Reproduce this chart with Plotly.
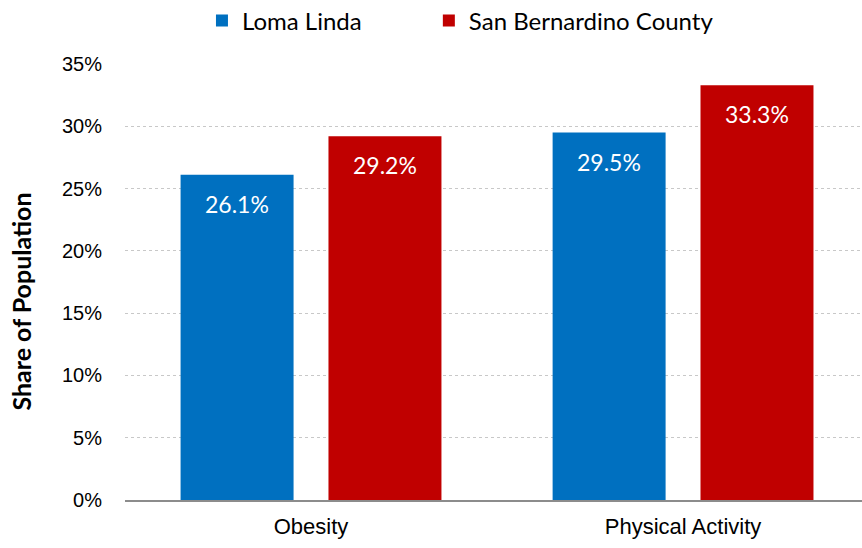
import plotly.graph_objects as go

# Health indicators, share of population (%)
categories = ["Obesity", "Physical Activity"]
loma_linda = [26.1, 29.5]
san_bernardino = [29.2, 33.3]
series_names = ["Loma Linda", "San Bernardino County"]
y_ticks = [0, 5, 10, 15, 20, 25, 30, 35]
y_tick_labels = [f"{v}%" for v in y_ticks]

BLUE = "#0070C0"
RED = "#C00000"
LABEL_FONT = "Lato"
AXIS_FONT = "Liberation Sans, Arial"

fig = go.Figure()
for name, vals, color, leg in [(series_names[0], loma_linda, BLUE, "legend"),
                               (series_names[1], san_bernardino, RED, "legend2")]:
    fig.add_trace(go.Bar(
        x=categories, y=vals, name=name, legend=leg,
        marker=dict(color=color, line=dict(width=0)),
        hoverinfo="x+y+name",
    ))

# Value labels sitting just inside the top of each bar
offsets = [-0.1987, 0.1987]
for vals, off in [(loma_linda, offsets[0]), (san_bernardino, offsets[1])]:
    for i, v in enumerate(vals):
        fig.add_annotation(
            x=i + off, y=v, xref="x", yref="y",
            text=f"{v:.1f}%", showarrow=False,
            yanchor="middle", yshift=-29,
            font=dict(family=LABEL_FONT, size=23, color="white"),
        )

# Rotated axis title
fig.add_annotation(
    xref="paper", yref="paper", x=-0.1411, y=0.454,
    text="<b>Share of Population</b>", showarrow=False, textangle=-90,
    xanchor="center", yanchor="middle",
    font=dict(family=LABEL_FONT, size=25, color="black"),
)

legend_style = dict(
    orientation="h", xref="container", yref="container",
    xanchor="left", y=0.962, yanchor="middle",
    font=dict(family=LABEL_FONT, size=24, color="black"),
    bgcolor="rgba(0,0,0,0)",
)

fig.update_layout(
    width=862, height=548,
    margin=dict(l=125, r=0, t=63, b=48),
    paper_bgcolor="white", plot_bgcolor="white",
    barmode="group", bargap=0.205, bargroupgap=0.236,
    showlegend=True,
    legend=dict(x=0.2343, **legend_style),
    legend2=dict(x=0.4975, **legend_style),
    xaxis=dict(
        type="category", range=[-0.5, 1.481],
        showgrid=False, showline=True, linecolor="#8c8c8c", linewidth=2,
        ticks="", tickfont=dict(family=AXIS_FONT, size=22, color="black"),
        ticklabelstandoff=6,
    ),
    yaxis=dict(
        range=[0, 35.08], tickvals=y_ticks, ticktext=y_tick_labels,
        showgrid=True, gridcolor="#c8c8c8", griddash="dot", gridwidth=1,
        zeroline=False, showline=False, ticks="",
        tickfont=dict(family=AXIS_FONT, size=20, color="black"),
        ticklabelstandoff=22,
    ),
)

fig.write_html("out.html")
